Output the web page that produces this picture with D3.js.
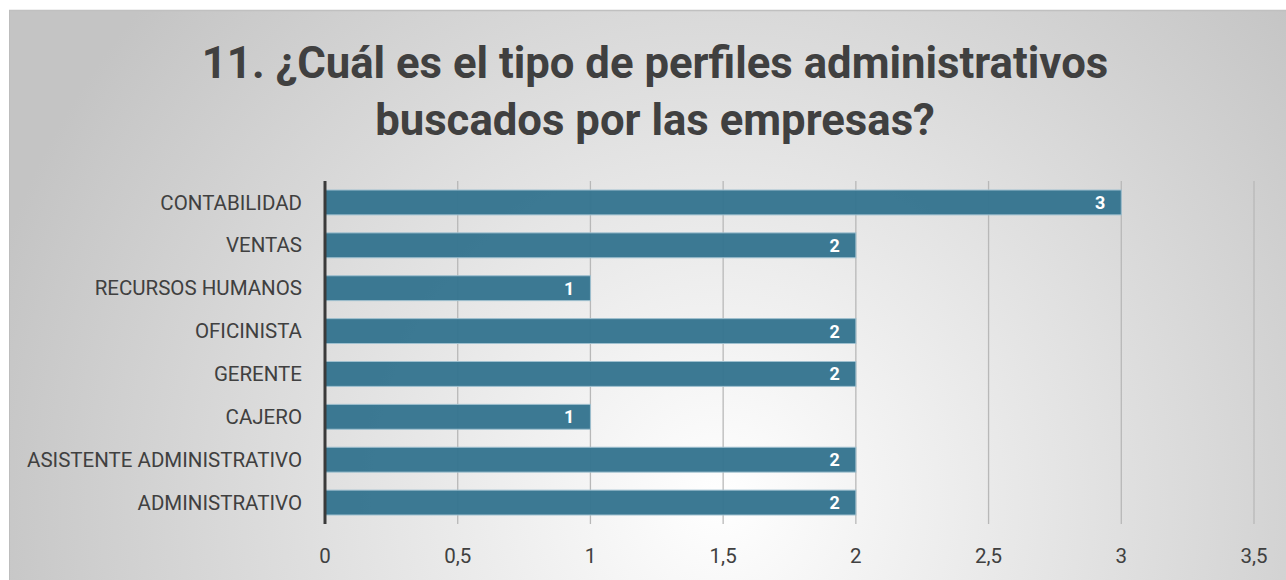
<!DOCTYPE html>
<html>
<head>
<meta charset="utf-8">
<script src="https://cdn.jsdelivr.net/npm/d3@7"></script>
<style>
  body { margin: 0; background: #fff; }
  svg { display: block; }
</style>
</head>
<body>
<svg id="svg" width="1286" height="580"></svg>
<script>
var categories = ["CONTABILIDAD", "VENTAS", "RECURSOS HUMANOS", "OFICINISTA", "GERENTE", "CAJERO", "ASISTENTE ADMINISTRATIVO", "ADMINISTRATIVO"];
var values = [3, 2, 1, 2, 2, 1, 2, 2];
var ticks = [0, 0.5, 1, 1.5, 2, 2.5, 3, 3.5];
var titleLines = ["11. ¿Cuál es el tipo de perfiles administrativos", "buscados por las empresas?"];

var svg = d3.select("#svg"),
    width = +svg.attr("width"),
    height = +svg.attr("height");

var labelFont = "Roboto, 'Liberation Sans', sans-serif";

// background gradient
var defs = svg.append("defs");
var grad = defs.append("radialGradient")
    .attr("id", "bg")
    .attr("gradientUnits", "userSpaceOnUse")
    .attr("cx", 720).attr("cy", 500).attr("r", 760);
grad.append("stop").attr("offset", "0%").attr("stop-color", "#ffffff");
grad.append("stop").attr("offset", "100%").attr("stop-color", "#c4c4c4");

svg.append("rect")
    .attr("x", 9).attr("y", 10)
    .attr("width", width - 9).attr("height", height - 10)
    .attr("fill", "url(#bg)");
svg.append("line")
    .attr("x1", 9).attr("x2", width).attr("y1", 10.5).attr("y2", 10.5)
    .attr("stroke", "#c0c0c0").attr("stroke-width", 1.5);
svg.append("line")
    .attr("x1", 9.5).attr("x2", 9.5).attr("y1", 10).attr("y2", height)
    .attr("stroke", "#bdbdbd").attr("stroke-width", 1);

// title
svg.append("text")
    .attr("x", 655).attr("y", 78)
    .attr("text-anchor", "middle")
    .style("font-family", "Roboto, 'Liberation Sans', sans-serif")
    .style("font-weight", "bold")
    .style("font-size", "43.7px")
    .attr("fill", "#404040")
    .selectAll("tspan")
    .data(titleLines)
    .enter().append("tspan")
    .attr("x", 655)
    .attr("dy", function (d, i) { return i === 0 ? 0 : 57; })
    .text(function (d) { return d; });

var x = d3.scaleLinear().domain([0, 3.5]).range([325, 1254]);
var y = d3.scaleBand().domain(categories).range([181, 524]).paddingInner(0.42).paddingOuter(0.21);

// gridlines
svg.append("g")
    .selectAll("line")
    .data(ticks.slice(1))
    .enter().append("line")
    .attr("x1", function (d) { return x(d); })
    .attr("x2", function (d) { return x(d); })
    .attr("y1", 181).attr("y2", 524)
    .attr("stroke", "#b8b8b8")
    .attr("stroke-width", 1.3);

// bars
svg.append("g")
    .selectAll("rect")
    .data(values)
    .enter().append("rect")
    .attr("x", x(0))
    .attr("y", function (d, i) { return y(categories[i]); })
    .attr("width", function (d) { return x(d) - x(0); })
    .attr("height", y.bandwidth())
    .attr("fill", "#36758f")
    .attr("fill-opacity", 0.97)
    .attr("stroke", "#9fc0cf")
    .attr("stroke-width", 1);

// value labels
svg.append("g")
    .selectAll("text")
    .data(values)
    .enter().append("text")
    .attr("x", function (d) { return x(d) - 16; })
    .attr("y", function (d, i) { return y(categories[i]) + y.bandwidth() / 2; })
    .attr("dy", "0.36em")
    .attr("text-anchor", "end")
    .style("font-family", "Roboto, 'Liberation Sans', sans-serif")
    .style("font-weight", "bold")
    .style("font-size", "18px")
    .attr("fill", "#ffffff")
    .text(function (d) { return d; });

// y axis line
svg.append("line")
    .attr("x1", x(0)).attr("x2", x(0))
    .attr("y1", 181).attr("y2", 524)
    .attr("stroke", "#3a3a3a")
    .attr("stroke-width", 3);

// category labels
svg.append("g")
    .selectAll("text")
    .data(categories)
    .enter().append("text")
    .attr("x", 302)
    .attr("y", function (d) { return y(d) + y.bandwidth() / 2; })
    .attr("dy", "0.35em")
    .attr("text-anchor", "end")
    .style("font-family", labelFont)
    .style("font-size", "20.5px")
    .attr("fill", "#404040")
    .text(function (d) { return d; });

// x tick labels
var fmt = function (d) { return String(d).replace(".", ","); };
svg.append("g")
    .selectAll("text")
    .data(ticks)
    .enter().append("text")
    .attr("x", function (d) { return x(d); })
    .attr("y", 563)
    .attr("text-anchor", "middle")
    .style("font-family", labelFont)
    .style("font-size", "20.5px")
    .attr("fill", "#404040")
    .text(fmt);
</script>
</body>
</html>
